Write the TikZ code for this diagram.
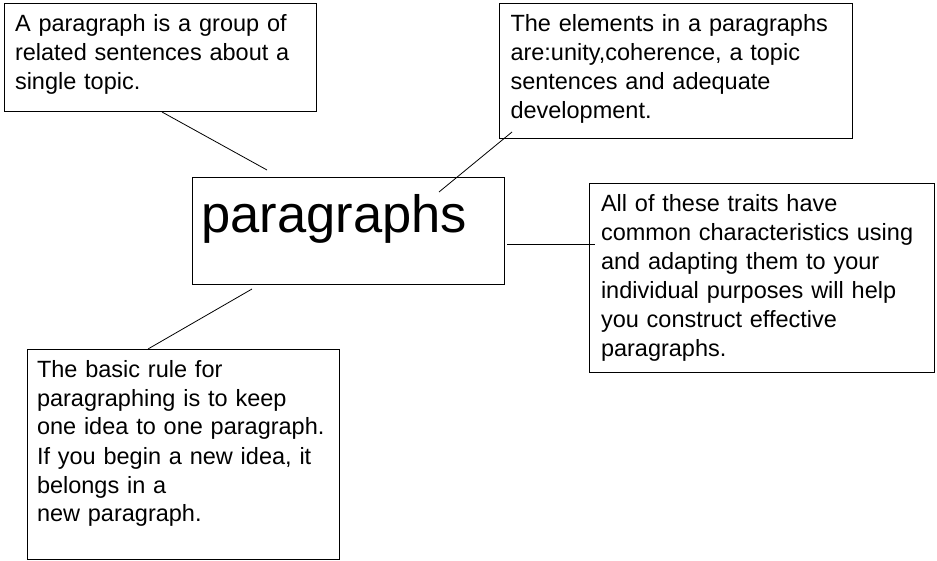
\documentclass[tikz,border=0pt]{standalone}
\usepackage{fontspec}
\setmainfont{Liberation Sans}
\usepackage{tikz}
\usetikzlibrary{positioning}

\begin{document}
\begin{tikzpicture}[x=1pt, y=-1pt,
    box/.style={draw, line width=1pt, outer sep=0pt, anchor=north west, align=left,
        inner ysep=0pt, text height=28pt, font=\fontsize{23.5}{29}\selectfont},
    link/.style={line width=0.8pt}]
    \useasboundingbox (0, 0) rectangle (937, 561);
    \node[box, text width=290pt, inner xsep=11pt, text depth=80pt] (intro) at (4, 4)
        {A paragraph is a group of\\related sentences about a\\single topic.};
    \node[box, text width=330pt, inner xsep=11.5pt, text depth=107pt] (elements) at (499, 4)
        {The elements in a paragraphs\\are:unity,coherence, a topic\\sentences and adequate\\development.};
    \node[box, text width=293pt, inner xsep=9.5pt, text height=55pt, text depth=52pt,
        font=\fontsize{52.5}{60}\selectfont] (topic) at (192, 178) {paragraphs};
    \node[box, text width=321pt, inner xsep=12pt, text depth=160pt] (traits) at (589, 184)
        {All of these traits have\\common characteristics using\\and adapting them to your\\individual purposes will help\\you construct effective\\paragraphs.};
    \node[box, text width=292pt, inner xsep=10pt, text depth=182pt] (rule) at (27, 349)
        {The basic rule for\\paragraphing is to keep\\one idea to one paragraph.\\If you begin a new idea, it\\belongs in a\\new paragraph.};
    % loose ends of the links
    \coordinate (a1) at (267, 170);
    \coordinate (a2) at (439, 192);
    \coordinate (b2) at (512, 132);
    \coordinate (a3) at (507, 244);
    \coordinate (b3) at (595, 244);
    \coordinate (a4) at (252, 289);
    \coordinate (b4) at (148, 349);
    \draw
    ([xshift=2pt]intro.south) edge[link] (a1)
    (a2) edge[link] (b2)
    (a3) edge[link] (b3)
    (a4) edge[link] (b4);
\end{tikzpicture}
\end{document}
